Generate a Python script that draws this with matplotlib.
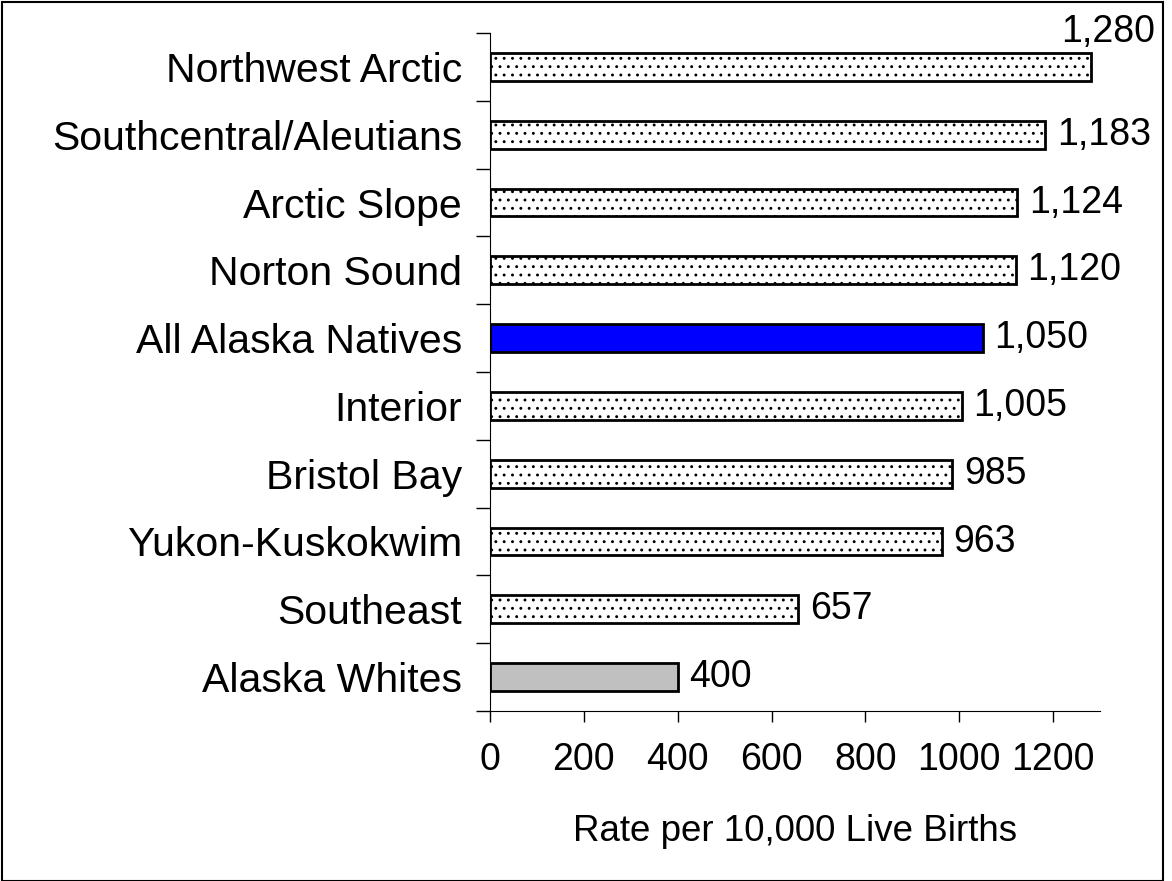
import matplotlib
matplotlib.use("Agg")
import matplotlib.pyplot as plt
from matplotlib.patches import Rectangle

plt.rcParams['font.family'] = ['Liberation Sans', 'DejaVu Sans']
plt.rcParams['hatch.linewidth'] = 0.9

# data, bottom to top
regions = ['Alaska Whites', 'Southeast', 'Yukon-Kuskokwim', 'Bristol Bay', 'Interior',
           'All Alaska Natives', 'Norton Sound', 'Arctic Slope',
           'Southcentral/Aleutians', 'Northwest Arctic']
rates = [400, 657, 963, 985, 1005, 1050, 1120, 1124, 1183, 1280]
xticks = [0, 200, 400, 600, 800, 1000, 1200]

fig = plt.figure(figsize=(11.72, 8.81), dpi=100)
ax = fig.add_axes([490 / 1172, 1 - 711 / 881, 610 / 1172, 678 / 881])

for i, (name, v) in enumerate(zip(regions, rates)):
    if name == 'All Alaska Natives':
        ax.barh(i, v, height=0.41, color='#0000FF', edgecolor='black', linewidth=2)
    elif name == 'Alaska Whites':
        ax.barh(i, v, height=0.41, color='#C0C0C0', edgecolor='black', linewidth=2)
    else:
        ax.barh(i, v, height=0.41, color='white', edgecolor='black', linewidth=2,
                hatch='..')
    label = f'{v:,}'
    if i == len(regions) - 1:
        # label does not fit at end of top bar, sits above it
        ax.text(1418, i + 0.52, label, ha='right', va='center', fontsize=27, clip_on=False)
    else:
        ax.text(v + 25, i, label, ha='left', va='center', fontsize=27)

ax.set_xlim(0, 1300)
ax.set_ylim(-0.5, len(regions) - 0.5)
ax.set_xticks(xticks)
ax.set_xticklabels([str(t) for t in xticks], fontsize=27)
ax.set_yticks(range(len(regions)))
ax.set_yticklabels(regions, fontsize=29.5)
ax.tick_params(axis='y', length=0, pad=20)
ax.set_yticks([i - 0.5 for i in range(len(regions) + 1)], minor=True)
ax.tick_params(axis='y', which='minor', length=10, width=1, direction='out')
ax.tick_params(axis='x', length=8, width=1, direction='out', pad=14)
ax.spines['top'].set_visible(False)
ax.spines['right'].set_visible(False)
ax.set_xlabel('Rate per 10,000 Live Births', fontsize=26.5, labelpad=26)

fig.patches.append(Rectangle((2 / 1172, 0), 1161 / 1172, 1 - 2 / 881, transform=fig.transFigure,
                             fill=False, edgecolor='black', linewidth=1.5))

fig.savefig('out.png', dpi=100)
